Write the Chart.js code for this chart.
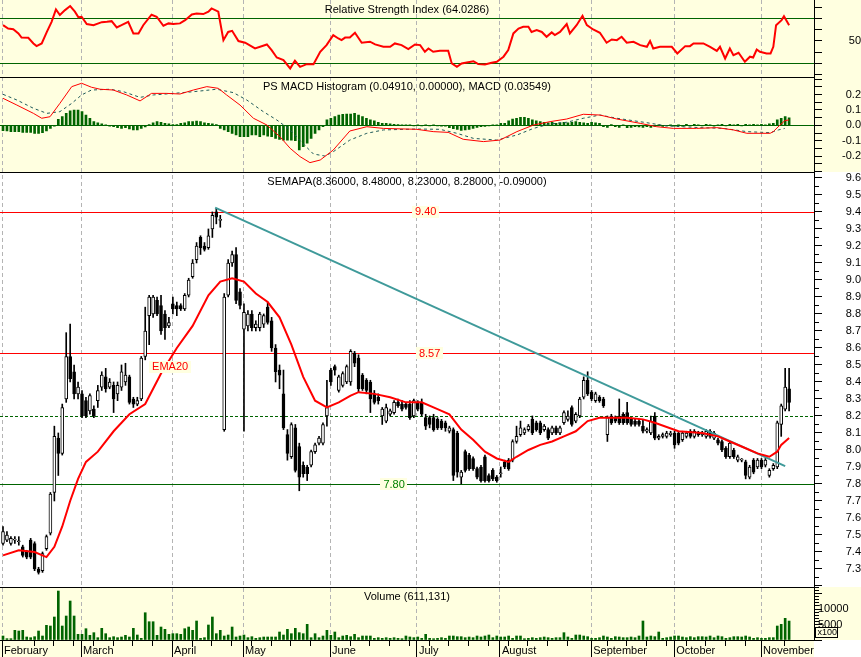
<!DOCTYPE html>
<html>
<head>
<meta charset="utf-8">
<title>SEMAPA</title>
<script src="https://cdn.jsdelivr.net/npm/chart.js@4.4.1/dist/chart.umd.min.js"></script>
<style>
    html, body { margin: 0; padding: 0; background: #ffffff; }
    #wrap { width: 861px; height: 657px; }
</style>
</head>
<body>
<div id="wrap"><canvas id="stockChart" width="861" height="657"></canvas></div>
<script>
/*=========================================
DATA (one bar per trading day, index 0..199)
=========================================*/
const opens = [
    7.45, 7.47, 7.45, 7.47, 7.46, 7.43, 7.40, 7.47, 7.45, 7.30,
    7.29, 7.42, 7.51, 7.75, 8.07, 7.98, 8.30, 8.55, 8.46, 8.33,
    8.33, 8.29, 8.23, 8.24, 8.29, 8.37, 8.43, 8.37, 8.38, 8.33,
    8.37, 8.40, 8.43, 8.30, 8.27, 8.30, 8.55, 8.79, 8.80, 8.88,
    8.85, 8.80, 8.73, 8.86, 8.85, 8.85, 8.83, 8.91, 9.02, 9.12,
    9.25, 9.20, 9.19, 9.30, 9.40, 9.35, 8.12, 8.91, 9.10, 9.15,
    8.93, 8.71, 8.73, 8.80, 8.72, 8.72, 8.74, 8.84, 8.76, 8.60,
    8.47, 8.33, 8.09, 7.96, 8.13, 8.02, 7.91, 7.90, 7.91, 7.99,
    8.04, 8.04, 8.20, 8.47, 8.49, 8.35, 8.38, 8.40, 8.40, 8.57,
    8.54, 8.44, 8.41, 8.40, 8.33, 8.31, 8.20, 8.17, 8.21, 8.22,
    8.28, 8.27, 8.27, 8.27, 8.20, 8.28, 8.28, 8.19, 8.19, 8.19,
    8.18, 8.17, 8.16, 8.11, 8.12, 8.10, 7.84, 7.99, 7.97, 7.95,
    7.89, 7.90, 7.96, 7.85, 7.88, 7.84, 7.86, 7.93, 7.94, 7.94,
    8.05, 8.09, 8.10, 8.12, 8.18, 8.16, 8.16, 8.12, 8.12, 8.10,
    8.13, 8.10, 8.16, 8.18, 8.25, 8.17, 8.20, 8.31, 8.41, 8.34,
    8.29, 8.31, 8.30, 8.09, 8.20, 8.19, 8.20, 8.21, 8.22, 8.18,
    8.17, 8.17, 8.14, 8.11, 8.10, 8.20, 8.07, 8.08, 8.08, 8.09,
    8.10, 8.10, 8.06, 8.08, 8.11, 8.08, 8.10, 8.09, 8.08, 8.11,
    8.07, 8.06, 8.05, 8.01, 7.96, 8.00, 7.94, 7.94, 7.93, 7.84,
    7.94, 7.90, 7.94, 7.91, 7.85, 7.89, 7.90, 8.15, 8.24, 8.36
];
const highs = [
    7.55, 7.52, 7.49, 7.49, 7.49, 7.44, 7.41, 7.48, 7.46, 7.31,
    7.40, 7.50, 7.75, 8.14, 8.10, 8.27, 8.69, 8.74, 8.50, 8.40,
    8.35, 8.31, 8.33, 8.26, 8.38, 8.46, 8.48, 8.42, 8.40, 8.40,
    8.50, 8.51, 8.44, 8.31, 8.31, 8.55, 8.84, 8.91, 8.91, 8.90,
    8.91, 8.82, 8.78, 8.90, 8.87, 8.86, 8.92, 9.01, 9.12, 9.22,
    9.26, 9.22, 9.30, 9.40, 9.42, 9.38, 8.92, 9.12, 9.17, 9.19,
    8.95, 8.86, 8.82, 8.82, 8.76, 8.81, 8.80, 8.87, 8.78, 8.62,
    8.50, 8.47, 8.12, 8.16, 8.15, 8.04, 7.93, 7.91, 8.00, 8.04,
    8.08, 8.16, 8.41, 8.48, 8.50, 8.44, 8.46, 8.50, 8.59, 8.58,
    8.56, 8.45, 8.42, 8.41, 8.35, 8.33, 8.25, 8.27, 8.24, 8.29,
    8.30, 8.29, 8.28, 8.29, 8.30, 8.29, 8.30, 8.21, 8.20, 8.21,
    8.19, 8.18, 8.17, 8.14, 8.13, 8.11, 7.88, 8.00, 7.98, 7.96,
    7.90, 7.91, 7.97, 7.86, 7.89, 7.85, 7.90, 7.94, 7.95, 8.06,
    8.14, 8.17, 8.13, 8.15, 8.20, 8.17, 8.17, 8.15, 8.13, 8.14,
    8.14, 8.14, 8.23, 8.23, 8.26, 8.22, 8.31, 8.43, 8.46, 8.35,
    8.34, 8.32, 8.31, 8.20, 8.21, 8.20, 8.30, 8.22, 8.28, 8.19,
    8.18, 8.18, 8.18, 8.13, 8.20, 8.22, 8.09, 8.10, 8.11, 8.11,
    8.11, 8.11, 8.11, 8.11, 8.12, 8.12, 8.11, 8.11, 8.12, 8.12,
    8.11, 8.07, 8.06, 8.02, 8.05, 8.01, 7.97, 7.95, 7.94, 7.91,
    7.95, 7.95, 7.95, 7.95, 7.89, 7.92, 8.17, 8.27, 8.48, 8.48
];
const lows = [
    7.44, 7.46, 7.44, 7.45, 7.44, 7.37, 7.36, 7.36, 7.29, 7.27,
    7.28, 7.41, 7.50, 7.70, 7.85, 7.97, 8.28, 8.40, 8.30, 8.30,
    8.19, 8.19, 8.21, 8.19, 8.25, 8.35, 8.34, 8.36, 8.22, 8.29,
    8.35, 8.38, 8.27, 8.25, 8.26, 8.29, 8.53, 8.62, 8.78, 8.79,
    8.68, 8.65, 8.72, 8.80, 8.79, 8.82, 8.82, 8.90, 9.01, 9.10,
    9.15, 9.17, 9.18, 9.25, 9.33, 9.31, 8.11, 8.90, 9.08, 8.86,
    8.83, 8.11, 8.70, 8.70, 8.70, 8.70, 8.72, 8.74, 8.58, 8.40,
    8.36, 8.12, 7.94, 7.95, 7.87, 7.76, 7.84, 7.82, 7.90, 7.98,
    8.03, 8.03, 8.14, 8.38, 8.44, 8.34, 8.37, 8.39, 8.38, 8.49,
    8.34, 8.35, 8.33, 8.22, 8.27, 8.27, 8.15, 8.16, 8.20, 8.21,
    8.25, 8.23, 8.24, 8.18, 8.19, 8.23, 8.20, 8.12, 8.13, 8.11,
    8.12, 8.12, 8.11, 8.10, 7.82, 7.84, 7.80, 7.87, 7.88, 7.88,
    7.83, 7.81, 7.81, 7.81, 7.82, 7.81, 7.84, 7.89, 7.88, 7.93,
    8.04, 8.08, 8.09, 8.11, 8.09, 8.11, 8.09, 8.11, 8.06, 8.09,
    8.09, 8.09, 8.15, 8.17, 8.14, 8.16, 8.19, 8.30, 8.32, 8.29,
    8.28, 8.28, 8.25, 8.05, 8.15, 8.16, 8.15, 8.15, 8.15, 8.14,
    8.14, 8.14, 8.10, 8.10, 8.09, 8.06, 8.06, 8.07, 8.07, 8.08,
    8.01, 8.03, 8.05, 8.07, 8.07, 8.07, 8.08, 8.08, 8.07, 8.07,
    8.06, 8.03, 7.99, 7.95, 7.95, 7.95, 7.93, 7.93, 7.83, 7.83,
    7.86, 7.89, 7.89, 7.90, 7.84, 7.88, 7.89, 8.08, 8.23, 8.23
];
const closes = [
    7.52, 7.50, 7.48, 7.47, 7.46, 7.38, 7.37, 7.37, 7.30, 7.28,
    7.39, 7.49, 7.74, 8.08, 7.98, 8.25, 8.55, 8.42, 8.33, 8.37,
    8.20, 8.20, 8.32, 8.20, 8.35, 8.44, 8.36, 8.40, 8.30, 8.38,
    8.46, 8.44, 8.28, 8.27, 8.29, 8.54, 8.70, 8.90, 8.90, 8.80,
    8.70, 8.72, 8.75, 8.83, 8.83, 8.83, 8.91, 9.00, 9.10, 9.20,
    9.19, 9.18, 9.26, 9.38, 9.37, 9.35, 8.90, 9.10, 9.15, 8.88,
    8.85, 8.81, 8.80, 8.72, 8.74, 8.80, 8.79, 8.75, 8.60, 8.46,
    8.44, 8.13, 7.98, 8.15, 7.88, 7.84, 7.86, 7.86, 7.99, 8.03,
    8.07, 8.15, 8.25, 8.40, 8.47, 8.43, 8.45, 8.49, 8.58, 8.51,
    8.36, 8.36, 8.35, 8.30, 8.28, 8.29, 8.24, 8.25, 8.23, 8.28,
    8.26, 8.24, 8.25, 8.19, 8.29, 8.24, 8.21, 8.14, 8.15, 8.12,
    8.13, 8.13, 8.13, 8.13, 7.85, 7.87, 7.87, 7.88, 7.89, 7.89,
    7.84, 7.82, 7.82, 7.82, 7.83, 7.82, 7.86, 7.90, 7.89, 8.05,
    8.08, 8.13, 8.12, 8.14, 8.10, 8.12, 8.10, 8.14, 8.07, 8.13,
    8.10, 8.13, 8.22, 8.20, 8.15, 8.21, 8.30, 8.41, 8.33, 8.30,
    8.33, 8.29, 8.26, 8.19, 8.16, 8.17, 8.16, 8.16, 8.16, 8.15,
    8.15, 8.15, 8.11, 8.12, 8.17, 8.07, 8.08, 8.09, 8.10, 8.10,
    8.03, 8.04, 8.10, 8.10, 8.08, 8.11, 8.09, 8.10, 8.11, 8.08,
    8.10, 8.04, 8.00, 7.96, 8.04, 7.96, 7.96, 7.94, 7.85, 7.90,
    7.87, 7.94, 7.90, 7.94, 7.88, 7.91, 8.16, 8.26, 8.37, 8.28
];
// volume in hundreds of shares
const volumes = [
    1290, 430, 430, 3120, 2900, 3120, 970, 750, 1075, 2900,
    1290, 4730, 4515, 7420, 15800, 4515, 7740, 12580, 7740, 1830,
    1830, 3650, 1500, 2365, 750, 3760, 2040, 750, 1075, 750,
    970, 1500, 970, 3760, 1610, 540, 8800, 5900, 5900, 1500,
    4190, 3440, 1830, 2040, 2040, 1830, 3650, 4190, 3120, 6130,
    540, 750, 4840, 7420, 2040, 3120, 1290, 1610, 4190, 970,
    1290, 1610, 750, 1075, 540, 750, 970, 970, 970, 970,
    2580, 1610, 3440, 2040, 3760, 2365, 2040, 5050, 750, 2040,
    750, 1290, 3120, 1500, 2580, 750, 1290, 1500, 1075, 1830,
    750, 1290, 1290, 1290, 540, 750, 540, 750, 540, 750,
    540, 430, 1290, 970, 750, 970, 540, 1830, 540, 430,
    540, 750, 540, 1290, 1290, 1075, 1075, 750, 970, 750,
    1290, 970, 1290, 1610, 750, 1290, 970, 970, 1290, 540,
    1290, 1290, 430, 540, 750, 540, 750, 970, 750, 540,
    750, 750, 2365, 970, 540, 1610, 1610, 1290, 1075, 540,
    540, 750, 1290, 970, 540, 1075, 970, 750, 750, 970,
    750, 1290, 6130, 970, 1290, 1075, 2580, 540, 750, 970,
    1290, 1290, 970, 750, 1075, 750, 1075, 1075, 970, 1290,
    750, 1290, 1075, 540, 750, 1075, 1075, 970, 1290, 970,
    540, 750, 540, 540, 750, 750, 4515, 5050, 6990, 6111
];
const macdHistogram = [
    -0.035, -0.037, -0.041, -0.041, -0.041, -0.046, -0.046, -0.046, -0.052, -0.052,
    -0.048, -0.037, -0.020, -0.005, 0.039, 0.057, 0.078, 0.095, 0.100, 0.100,
    0.089, 0.067, 0.046, 0.024, 0.017, 0.009, 0.002, -0.005, -0.009, -0.015,
    -0.020, -0.015, -0.024, -0.030, -0.030, -0.020, -0.010, 0.005, 0.017, 0.024,
    0.020, 0.013, 0.009, 0.005, 0.005, 0.013, 0.017, 0.024, 0.024, 0.028,
    0.024, 0.017, 0.013, 0.010, 0.005, -0.020, -0.030, -0.041, -0.052, -0.063,
    -0.074, -0.074, -0.074, -0.063, -0.063, -0.074, -0.063, -0.070, -0.074, -0.085,
    -0.091, -0.096, -0.096, -0.096, -0.100, -0.161, -0.139, -0.117, -0.085, -0.052,
    -0.030, -0.009, 0.035, 0.046, 0.057, 0.067, 0.072, 0.074, 0.074, 0.078,
    0.067, 0.057, 0.046, 0.035, 0.030, 0.020, 0.013, 0.013, 0.009, 0.007,
    0.005, 0.004, 0.004, 0.003, -0.002, 0.003, -0.003, 0.002, -0.004, 0.002,
    -0.004, -0.006, -0.006, -0.015, -0.022, -0.026, -0.033, -0.030, -0.026, -0.020,
    -0.013, -0.009, -0.007, -0.004, 0.002, 0.004, 0.013, 0.013, 0.030, 0.041,
    0.046, 0.052, 0.052, 0.046, 0.035, 0.030, 0.024, 0.020, 0.017, 0.020,
    0.013, 0.017, 0.020, 0.017, 0.020, 0.024, 0.020, 0.017, 0.013, 0.020,
    0.017, 0.013, -0.009, -0.013, 0.005, -0.009, -0.013, 0.004, -0.015, -0.013,
    -0.009, -0.011, -0.013, -0.009, -0.013, -0.007, 0.004, -0.007, -0.004, 0.004,
    -0.006, 0.004, -0.006, 0.006, -0.004, 0.006, 0.004, -0.004, 0.006, 0.004,
    -0.006, 0.004, 0.006, -0.004, 0.006, 0.004, 0.006, -0.004, 0.006, 0.004,
    0.006, 0.004, 0.006, 0.004, 0.009, 0.013, 0.035, 0.046, 0.057, 0.049
];

// line indicators read at the bars where they bend
const emaBars = [
    0, 4, 8, 11, 13, 15, 17, 19, 21, 24, 28, 32, 36, 40, 44, 48, 52, 55, 58, 61,
    64, 67, 70, 73, 76, 79, 82, 85, 88, 90, 94, 98, 102, 106, 110, 113, 116, 119, 122, 125,
    128, 130, 133, 136, 139, 142, 145, 148, 151, 158, 162, 165, 171, 177, 181, 184, 188, 191, 194, 196,
    197, 199
];
const emaValues = [
    7.38, 7.41, 7.40, 7.37, 7.43, 7.55, 7.70, 7.83, 7.93, 7.99, 8.11, 8.21, 8.27, 8.45, 8.60, 8.73, 8.91, 8.99, 9.01, 8.99,
    8.92, 8.87, 8.78, 8.62, 8.43, 8.29, 8.25, 8.28, 8.32, 8.34, 8.33, 8.31, 8.28, 8.28, 8.24, 8.21, 8.12, 8.06, 7.99, 7.95,
    7.93, 7.96, 8.00, 8.03, 8.05, 8.08, 8.11, 8.17, 8.19, 8.19, 8.18, 8.16, 8.11, 8.10, 8.08, 8.05, 8.01, 7.98, 7.96, 7.99,
    8.03, 8.07
];
const rsiBars = [
    0, 1.3, 2.6, 3.9, 4.7, 6.4, 7.7, 8.5, 9.8, 11.1, 12.3, 13.4, 14.4, 15.7, 17, 18.2, 19.1, 19.9, 21.2, 22.9,
    25, 26.3, 27.5, 28.8, 30, 31.7, 33, 34.3, 35.5, 37.6, 38.9, 40.6, 41.9, 43.1, 44.8, 46.1, 47.8, 49, 50.7, 52,
    52.8, 54.5, 55.8, 57, 58, 59.6, 61.3, 63.8, 66.8, 68, 69.3, 71, 72.7, 73.9, 75.2, 76.9, 78.6, 80.3, 81.9, 83.6,
    84.9, 85.7, 86.6, 87.8, 89.1, 90.8, 92.9, 94.2, 96.3, 98, 99.2, 100.9, 102.6, 104.3, 105.6, 106.8, 107.7, 108.9, 110.6, 112.7,
    113.6, 114.9, 116.1, 117.4, 119.1, 120.3, 122, 123.7, 125, 126.7, 127.9, 129.2, 130.5, 131.7, 133, 133.8, 135.1, 136.4, 137.6, 138.9,
    139.7, 141, 142.7, 143.5, 145.2, 146.7, 147.8, 149.4, 151.1, 152.8, 154.1, 155.4, 156.6, 157.9, 159.6, 161.3, 163, 163.8, 164.6, 166.3,
    169.3, 170.7, 172.7, 173.9, 174.8, 177.3, 179, 180.7, 181.5, 182.8, 184, 184.9, 186.2, 187.8, 189.1, 189.9, 190.8, 191.6, 193.3, 194.3,
    195, 195.7, 197.1, 197.7, 199
];
const rsiValues = [
    64.1, 61, 60.5, 56.7, 53, 52.8, 47.8, 45.4, 47.8, 58, 67, 78, 73, 77.4, 81, 76, 71, 71.5, 65, 64,
    66.7, 67, 67.6, 62, 64, 67, 56.7, 56.7, 64, 73.3, 71.5, 63.5, 65.6, 65, 65.6, 68.5, 73.6, 74.4, 73.9, 76,
    78.9, 76, 50.7, 58, 59, 49.9, 48.4, 43.3, 46.9, 41.9, 35.3, 33, 25.6, 32.4, 27, 29.4, 29.4, 40.4, 46.3, 55.2,
    52.2, 50.7, 53, 53, 57.3, 48.4, 49.3, 46.9, 44.8, 44.8, 47.8, 46.3, 42.7, 46.9, 46.3, 40.4, 43.3, 40.4, 41.2, 41.2,
    30, 27, 30, 30.9, 32, 29.4, 29, 30.6, 31.5, 36, 41.9, 56.7, 61, 62.6, 62.6, 58, 59.6, 58, 53.7, 57.6,
    55.2, 58, 65, 56.7, 64, 72.4, 64, 60.2, 57.3, 48.4, 51.3, 50.7, 53.7, 48.4, 49.3, 46.3, 44.8, 50, 43.3, 44.8,
    44.8, 38.9, 45.4, 45.4, 47.8, 47.8, 44.8, 41.2, 44.8, 34.4, 43.3, 37.4, 39.5, 31.5, 36, 35.3, 42.4, 40.4, 38.9, 38.9,
    44.8, 64, 68.5, 72, 64.03
];
const macdBars = [
    0, 3.5, 7.7, 9.8, 11.9, 14.4, 17.4, 19.9, 22.4, 24.6, 27.9, 31.3, 34.7, 37.6, 41.4, 44.8, 48.2, 51.6, 54.5, 56.6,
    60, 63.4, 66.8, 70.1, 72.7, 75.2, 77.7, 80.3, 83.6, 87.8, 92.1, 96.3, 104.7, 108.9, 112.7, 116.5, 121.6, 125.8, 130.1, 134.3,
    138.5, 142.7, 146.9, 151.1, 155.4, 161.3, 165.5, 169.7, 175.6, 180.7, 184.9, 188.3, 194.2, 195, 196.7, 197.9, 199
];
const macdValues = [
    0.176, 0.132, 0.078, 0.046, 0.056, 0.143, 0.252, 0.274, 0.248, 0.235, 0.230, 0.198, 0.159, 0.208, 0.208, 0.204, 0.230, 0.252, 0.241, 0.198,
    0.132, 0.046, 0.002, -0.074, -0.150, -0.204, -0.243, -0.226, -0.161, -0.037, -0.009, -0.020, -0.026, -0.041, -0.046, -0.091, -0.106, -0.096, -0.041, 0.002,
    0.024, 0.041, 0.072, 0.067, 0.041, 0.013, -0.009, -0.020, -0.020, -0.015, -0.030, -0.052, -0.052, -0.041, 0.002, 0.030, 0.0355
];
const signalBars = [
    0, 3.5, 7.7, 11.1, 14.4, 17.4, 19.9, 22.4, 27.1, 30.5, 34.7, 38.1, 43.1, 48.2, 54.1, 58.3, 61.7, 65.9, 69.3, 72.7,
    75.2, 78.6, 81.5, 83.6, 87.8, 92.1, 96.3, 104.7, 110.6, 114.9, 119.1, 125, 130.1, 134.3, 138.5, 142.7, 146.9, 151.1, 155.4, 163,
    168, 176.5, 182.4, 188.3, 194.2, 196.3, 197.9
];
const signalValues = [
    0.202, 0.165, 0.111, 0.078, 0.089, 0.143, 0.198, 0.230, 0.235, 0.219, 0.182, 0.198, 0.208, 0.219, 0.235, 0.213, 0.165, 0.089, 0.035, -0.030,
    -0.100, -0.187, -0.200, -0.172, -0.096, -0.052, -0.030, -0.024, -0.026, -0.052, -0.085, -0.096, -0.063, -0.020, 0.009, 0.020, 0.046, 0.067, 0.046, 0.017,
    -0.004, -0.015, -0.020, -0.041, -0.048, -0.030, -0.020
];

// trend line from the April top to the last bar
const trendBars = [53.7, 198];
const trendValues = [9.425, 7.905];

// support / resistance levels drawn on the price panel
const priceLevels = [9.40, 8.57, 7.80];
const levelColors = ["#ff0000", "#ff0000", "#006400"];
const levelLabelColors = ["#ff0000", "#ff0000", "#008000"];
const levelLabelBars = [107, 108, 99];
const dashedLevel = 8.20;
const rsiLevels = [70, 30];

// axis labels
const monthNames = ["February", "March", "April", "May", "June", "July", "August", "September", "October", "November"];
const monthStarts = [-0.25, 19.75, 42.8, 60.76, 82.8, 104.8, 125.8, 148.9, 169.9, 191.9];
const priceLabels = ["7.3", "7.4", "7.5", "7.6", "7.7", "7.8", "7.9", "8.0", "8.1", "8.2", "8.3", "8.4", "8.5", "8.6", "8.7", "8.8", "8.9", "9.0", "9.1", "9.2", "9.3", "9.4", "9.5", "9.6"];
const macdLabels = ["-0.2", "-0.1", "0.0", "0.1", "0.2"];
const rsiLabels = ["50"];
const volumeLabels = ["5000", "10000"];

const titles = {
    rsi: "Relative Strength Index (64.0286)",
    macd: "PS MACD Histogram (0.04910, 0.00000), MACD (0.03549)",
    price: "SEMAPA(8.36000, 8.48000, 8.23000, 8.28000, -0.09000)",
    vol: "Volume (611,131)"
};

/*=========================================
HELPERS
=========================================*/
const PANEL_BG = "#ffffe0";
const FONT_FAMILY = '"Liberation Sans", Arial, sans-serif';
const FONT = "11px " + FONT_FAMILY;
const AXIS_WIDTH = 47;

function range(from, to, step) {
    const out = [];
    for (let k = Math.round(from / step); k <= Math.round(to / step); k++) out.push(+(k * step).toFixed(4));
    return out;
}

function isMultiple(v, step) {
    return Math.abs(v / step - Math.round(v / step)) < 1e-6;
}

function pairs(xs, ys) {
    return xs.map((x, k) => ({ x: x, y: ys[k] }));
}

// axes must not push the plot area inwards
function noPadding(scale) {
    scale.paddingTop = 0;
    scale.paddingBottom = 0;
    scale.paddingLeft = 0;
    scale.paddingRight = 0;
}

const weekTicks = [];
for (let v = 7.9; v < 200; v += 5) {
    if (monthStarts.every(m => Math.abs(m - v) > 1.5)) weekTicks.push(v);
}
const xTicks = monthStarts.concat(weekTicks);

function rightAxis(cfg) {
    return {
        type: "linear",
        position: "right",
        stack: "panels",
        stackWeight: cfg.weight,
        min: cfg.min,
        max: cfg.max,
        bounds: "data",
        beginAtZero: false,
        afterBuildTicks: function (scale) {
            scale.ticks = cfg.ticks.map(v => ({ value: v }));
        },
        afterFit: function (scale) {
            scale.width = AXIS_WIDTH;
            noPadding(scale);
        },
        grid: {
            drawOnChartArea: false,
            tickLength: 8,
            tickColor: "#000",
            tickBorderDash: function (ctx) {
                if (!ctx.tick) return [];
                return cfg.isMajor(ctx.tick.value) ? [] : [4, 20];
            }
        },
        border: { color: "#000", width: 1 },
        ticks: {
            autoSkip: false,
            color: "#000",
            font: { family: FONT_FAMILY, size: 11 },
            padding: cfg.padding,
            crossAlign: cfg.crossAlign || "far",
            callback: cfg.label
        }
    };
}

/*=========================================
PANEL DECORATION PLUGIN
=========================================*/
const panelPlugin = {
    id: "panelDecor",

    beforeDraw(chart) {
        const { ctx, width, height, chartArea, scales } = chart;
        ctx.save();
        ctx.fillStyle = "#ffffff";
        ctx.fillRect(0, 0, width, height);
        ctx.fillStyle = PANEL_BG;
        ctx.fillRect(0, scales.rsi.top, width, scales.macd.bottom - scales.rsi.top);
        ctx.fillRect(0, scales.vol.top, width, scales.vol.bottom - scales.vol.top);
        ctx.fillRect(0, chartArea.bottom, chartArea.right, height - chartArea.bottom);
        ctx.restore();
    },

    beforeDatasetsDraw(chart) {
        const { ctx, chartArea, scales } = chart;

        function hLine(scale, value, color, dash) {
            const y = Math.round(scale.getPixelForValue(value)) + 0.5;
            ctx.save();
            ctx.strokeStyle = color;
            ctx.lineWidth = 1;
            ctx.setLineDash(dash || []);
            ctx.beginPath();
            ctx.moveTo(chartArea.left, y);
            ctx.lineTo(chartArea.right, y);
            ctx.stroke();
            ctx.restore();
        }

        rsiLevels.forEach(v => hLine(scales.rsi, v, "#006400"));
        hLine(scales.macd, 0, "#006400");
        priceLevels.forEach((v, k) => hLine(scales.price, v, levelColors[k]));
        hLine(scales.price, dashedLevel, "#006400", [3, 2]);
    },

    afterDatasetsDraw(chart) {
        const { ctx, chartArea, scales } = chart;
        ctx.save();
        ctx.font = FONT;
        ctx.textBaseline = "middle";

        function tag(text, x, y, color) {
            const w = ctx.measureText(text).width + 6;
            ctx.fillStyle = PANEL_BG;
            ctx.fillRect(Math.round(x - w / 2), Math.round(y - 6), Math.round(w), 12);
            ctx.fillStyle = color;
            ctx.textAlign = "center";
            ctx.fillText(text, x, y + 0.5);
        }

        priceLevels.forEach((v, k) => {
            tag(v.toFixed(2), scales.x.getPixelForValue(levelLabelBars[k]), scales.price.getPixelForValue(v), levelLabelColors[k]);
        });
        tag("EMA20", scales.x.getPixelForValue(42.3), scales.price.getPixelForValue(8.49), "#ff0000");

        // panel titles
        const cx = (chartArea.left + chartArea.right) / 2;
        ctx.fillStyle = "#000";
        ctx.textAlign = "center";
        ["rsi", "macd", "price", "vol"].forEach(id => {
            ctx.fillText(titles[id], cx, scales[id].top + 10);
        });

        // separators between panels
        ctx.strokeStyle = "#000";
        ctx.lineWidth = 1;
        ["macd", "price", "vol"].forEach(id => {
            const y = Math.round(scales[id].top) + 0.5;
            ctx.beginPath();
            ctx.moveTo(0, y);
            ctx.lineTo(chartArea.right, y);
            ctx.stroke();
        });

        // volume unit box
        const bx = chartArea.right + 1.5;
        const by = Math.round(scales.vol.getPixelForValue(4300)) + 0.5;
        ctx.fillStyle = PANEL_BG;
        ctx.fillRect(bx, by, 22, 10);
        ctx.strokeRect(bx, by, 22, 10);
        ctx.fillStyle = "#000";
        ctx.font = "9px " + FONT_FAMILY;
        ctx.textAlign = "left";
        ctx.fillText("x100", bx + 2, by + 5.5);
        ctx.restore();
    }
};

/*=========================================
CHART
=========================================*/
document.addEventListener("DOMContentLoaded", function () {

    const canvas = document.getElementById("stockChart");

    if (!canvas) return;

    new Chart(canvas, {

        type: "line",

        data: {

            datasets: [

                {
                    type: "line",
                    label: "EMA20",
                    data: pairs(emaBars, emaValues),
                    xAxisID: "x",
                    yAxisID: "price",
                    borderColor: "#ff0000",
                    borderWidth: 2,
                    pointRadius: 0,
                    tension: 0,
                    order: 0
                },

                {
                    type: "line",
                    label: "Trend",
                    data: pairs(trendBars, trendValues),
                    xAxisID: "x",
                    yAxisID: "price",
                    borderColor: "#3f9a9a",
                    borderWidth: 2,
                    pointRadius: 0,
                    order: 0
                },

                {
                    type: "bar",
                    label: "Body",
                    data: closes.map((c, i) => ({ x: i, y: [opens[i], c] })),
                    xAxisID: "x",
                    yAxisID: "price",
                    backgroundColor: closes.map((c, i) => c >= opens[i] ? "#ffffff" : "#000000"),
                    borderColor: "#000000",
                    borderWidth: 1,
                    borderSkipped: false,
                    barThickness: 3,
                    minBarLength: 1,
                    grouped: false,
                    order: 1
                },

                {
                    type: "bar",
                    label: "Wick",
                    data: highs.map((h, i) => ({ x: i, y: [lows[i], h] })),
                    xAxisID: "x",
                    yAxisID: "price",
                    backgroundColor: "#000000",
                    borderWidth: 0,
                    barThickness: 1,
                    grouped: false,
                    order: 2
                },

                {
                    type: "line",
                    label: "RSI",
                    data: pairs(rsiBars, rsiValues),
                    xAxisID: "x",
                    yAxisID: "rsi",
                    borderColor: "#ff0000",
                    borderWidth: 2,
                    pointRadius: 0,
                    tension: 0,
                    order: 0
                },

                {
                    type: "line",
                    label: "MACD",
                    data: pairs(macdBars, macdValues),
                    xAxisID: "x",
                    yAxisID: "macd",
                    borderColor: "#ff0000",
                    borderWidth: 1,
                    pointRadius: 0,
                    tension: 0,
                    order: 0
                },

                {
                    type: "line",
                    label: "Signal",
                    data: pairs(signalBars, signalValues),
                    xAxisID: "x",
                    yAxisID: "macd",
                    borderColor: "#1f5a5a",
                    borderWidth: 1,
                    borderDash: [3, 3],
                    pointRadius: 0,
                    tension: 0,
                    order: 1
                },

                {
                    type: "bar",
                    label: "Histogram",
                    data: macdHistogram.map((v, i) => ({ x: i, y: v })),
                    xAxisID: "x",
                    yAxisID: "macd",
                    backgroundColor: "#006400",
                    barThickness: 2,
                    grouped: false,
                    order: 2
                },

                {
                    type: "bar",
                    label: "Volume",
                    data: volumes.map((v, i) => ({ x: i, y: v })),
                    xAxisID: "x",
                    yAxisID: "vol",
                    backgroundColor: "#006400",
                    barThickness: 2,
                    grouped: false,
                    order: 2
                }

            ]

        },

        options: {

            responsive: false,
            animation: false,
            events: [],
            layout: { padding: 0 },

            plugins: {
                legend: { display: false },
                tooltip: { enabled: false }
            },

            scales: {

                x: {
                    type: "linear",
                    position: "bottom",
                    min: -0.76,
                    max: 205.3,
                    offset: false,
                    afterBuildTicks: function (scale) {
                        scale.ticks = xTicks.map(v => ({ value: v }));
                    },
                    afterFit: function (scale) {
                        scale.height = 17;
                        noPadding(scale);
                    },
                    grid: {
                        offset: false,
                        color: function (ctx) {
                            return ctx.tick && monthStarts.includes(ctx.tick.value) ? "#b4b4b4" : "rgba(0,0,0,0)";
                        },
                        tickLength: 17,
                        tickColor: "#000",
                        tickBorderDash: function (ctx) {
                            return ctx.tick && monthStarts.includes(ctx.tick.value) ? [] : [5, 40];
                        }
                    },
                    border: { color: "#000", width: 1, dash: [4, 3] },
                    ticks: {
                        autoSkip: false,
                        maxRotation: 0,
                        align: "start",
                        labelOffset: 2,
                        padding: -13,
                        color: "#000",
                        font: { family: FONT_FAMILY, size: 11 },
                        callback: function (value) {
                            const k = monthStarts.indexOf(value);
                            return k >= 0 ? monthNames[k] : "";
                        }
                    }
                },

                rsi: rightAxis({
                    weight: 76.5, min: 18.4, max: 86.4,
                    ticks: range(20, 80, 10),
                    isMajor: () => true,
                    padding: 23,
                    label: v => rsiLabels.includes(String(v)) ? String(v) : ""
                }),

                macd: rightAxis({
                    weight: 95.5, min: -0.304, max: 0.318,
                    ticks: range(-0.3, 0.3, 0.05),
                    isMajor: () => true,
                    padding: 16,
                    label: v => {
                        const s = isMultiple(v, 0.1) ? (Math.abs(v) < 1e-9 ? "0.0" : v.toFixed(1)) : "";
                        return macdLabels.includes(s) ? s : "";
                    }
                }),

                price: rightAxis({
                    weight: 415, min: 7.194, max: 9.635,
                    ticks: range(7.2, 9.6, 0.05),
                    isMajor: v => isMultiple(v, 0.1),
                    padding: 20,
                    label: v => isMultiple(v, 0.1) && priceLabels.includes(v.toFixed(1)) ? v.toFixed(1) : ""
                }),

                vol: rightAxis({
                    weight: 53, min: 0, max: 17100,
                    ticks: range(0, 17000, 1000),
                    isMajor: v => isMultiple(v, 5000),
                    padding: -4,
                    crossAlign: "near",
                    label: v => volumeLabels.includes(String(v)) ? String(v) : ""
                })

            }

        },

        plugins: [panelPlugin]

    });

});
</script>
</body>
</html>
